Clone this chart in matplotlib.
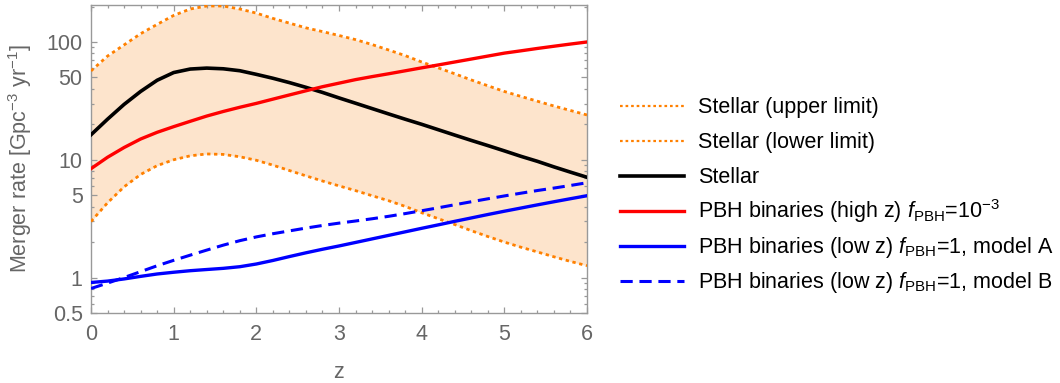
import numpy as np
import matplotlib
matplotlib.use("Agg")
from matplotlib import pyplot as plt
from matplotlib.lines import Line2D
from matplotlib.ticker import FixedLocator, NullFormatter

plt.rcParams['font.family'] = ['Liberation Sans', 'DejaVu Sans']
plt.rcParams['mathtext.fontset'] = 'custom'
plt.rcParams['mathtext.rm'] = 'Liberation Sans'
plt.rcParams['mathtext.it'] = 'Liberation Sans:italic'

# redshift grid and merger rates (Gpc^-3 yr^-1)
z = [0.0, 0.2, 0.4, 0.6, 0.8, 1.0, 1.2, 1.4, 1.6, 1.8, 2.0, 2.2, 2.4, 2.6, 2.8, 3.0,
     3.2, 3.4, 3.6, 3.8, 4.0, 4.2, 4.4, 4.6, 4.8, 5.0, 5.2, 5.4, 5.6, 5.8, 6.0]
stellar_upper = [56.8, 75.9, 94.4, 117.5, 141, 168, 190.5, 202, 202, 190.5, 175.8,
                 158.5, 144.5, 131.8, 122.5, 113.5, 104.7, 95.1, 85.5, 76.6, 67.6,
                 60.3, 53.7, 47.6, 42.5, 38.0, 34.5, 31.4, 28.6, 26.2, 24.0]
stellar_lower = [2.99, 4.31, 5.89, 7.5, 8.91, 10.0, 10.8, 11.2, 11.1, 10.6, 9.9,
                 9.0, 8.1, 7.3, 6.6, 6.0, 5.47, 4.95, 4.49, 4.02, 3.55,
                 3.16, 2.82, 2.5, 2.23, 2.0, 1.81, 1.65, 1.5, 1.37, 1.26]
stellar = [16.3, 22.1, 29.5, 38.0, 47.3, 55.0, 58.9, 60, 59.2, 57.0, 53.1,
           49.2, 45.2, 41.2, 37.3, 33.5, 30.2, 27.2, 24.5, 22.1, 20,
           18, 16.2, 14.6, 13.2, 11.9, 10.7, 9.7, 8.7, 7.85, 7.1]
pbh_high = [8.4, 10.5, 12.7, 15.0, 17.1, 19.1, 21.2, 23.5, 25.7, 27.9, 30.1,
            32.7, 35.5, 38.5, 41.7, 44.7, 47.9, 50.8, 53.7, 56.9, 60.3,
            63.8, 67.6, 71.6, 75.9, 80.4, 84.1, 88.1, 92, 96, 100]
pbh_low_A = [0.908, 0.933, 0.973, 1.023, 1.072, 1.109, 1.143, 1.17, 1.197, 1.236, 1.303,
             1.396, 1.507, 1.622, 1.738, 1.854, 1.986, 2.128, 2.28, 2.443, 2.618,
             2.8, 3.0, 3.206, 3.428, 3.656, 3.89, 4.14, 4.4, 4.67, 4.95]
pbh_low_B = [0.807, 0.897, 1.0, 1.122, 1.259, 1.4, 1.549, 1.71, 1.884, 2.056, 2.213,
             2.355, 2.489, 2.63, 2.767, 2.897, 3.02, 3.155, 3.31, 3.49, 3.69,
             3.91, 4.15, 4.4, 4.66, 4.93, 5.2, 5.48, 5.75, 6.05, 6.38]

labels = ["Stellar (upper limit)", "Stellar (lower limit)", "Stellar",
          r"PBH binaries (high z) $f_{\mathrm{PBH}}$=10$^{-3}$",
          r"PBH binaries (low z) $f_{\mathrm{PBH}}$=1, model A",
          r"PBH binaries (low z) $f_{\mathrm{PBH}}$=1, model B"]

yticks = [0.5, 1, 5, 10, 50, 100]
ytick_labels = ["0.5", "1", "5", "10", "50", "100"]

gray = '#999999'
textgray = '#666666'
orange = '#ff8000'
fs = 15.5

W, H = 1060, 383
fig = plt.figure(figsize=(W / 100, H / 100), dpi=100)
ax = fig.add_axes([91 / W, 1 - 313 / H, 496 / W, 308 / H])

ax.fill_between(z, stellar_lower, stellar_upper, color='#fde4cc', lw=0, zorder=1)
l1, = ax.plot(z, stellar_upper, color=orange, lw=2, ls=(0, (1.2, 1.3)), zorder=3)
l2, = ax.plot(z, stellar_lower, color=orange, lw=2, ls=(0, (1.2, 1.3)), zorder=3)
l3, = ax.plot(z, stellar, color='black', lw=2.6, zorder=4)
l4, = ax.plot(z, pbh_high, color='#ff0000', lw=2.4, zorder=4)
l5, = ax.plot(z, pbh_low_A, color='#0000ff', lw=2.4, zorder=4)
l6, = ax.plot(z, pbh_low_B, color='#0000ff', lw=2.2, ls=(0, (4, 2.2)), zorder=4)
for ln in (l1, l2, l3, l4, l5, l6):
    ln.set_solid_joinstyle('round')

ax.set_yscale('log')
ax.set_xlim(0, 6)
ax.set_ylim(0.5, 206)

ax.yaxis.set_major_locator(FixedLocator(yticks))
ax.set_yticklabels(ytick_labels)
minor = [v * m for v in [0.1, 1, 10, 100] for m in range(2, 10)]
minor = [v for v in minor if 0.5 < v < 206 and round(v, 6) not in yticks]
ax.yaxis.set_minor_locator(FixedLocator(minor))
ax.yaxis.set_minor_formatter(NullFormatter())
ax.set_xticks(range(7))
ax.set_xticks(np.arange(0, 6.01, 0.2), minor=True)

for s in ax.spines.values():
    s.set_color(gray)
    s.set_linewidth(1.0)
ax.tick_params(which='both', direction='in', top=True, right=True, color=gray,
               labelcolor=textgray, labelsize=fs, width=0.9)
ax.tick_params(axis='y', which='both', pad=6)
ax.tick_params(axis='x', which='both', pad=8)
ax.tick_params(which='major', length=4)
ax.tick_params(which='minor', length=2.2)

ax.set_xlabel("z", fontsize=fs, color=textgray, labelpad=12)
ax.set_ylabel(r"Merger rate [Gpc$^{-3}$ yr$^{-1}$]", fontsize=fs, color=textgray,
              labelpad=9)

# legend drawn by hand so every row gets the same spacing
row_y = [106 + 35 * i for i in range(6)]
for line, label, yp in zip([l1, l2, l3, l4, l5, l6], labels, row_y):
    fy = 1 - yp / H
    lw = line.get_linewidth()
    if line is l1 or line is l2:
        lw = 1.6
    fig.add_artist(Line2D([620 / W, 684 / W], [fy, fy], transform=fig.transFigure,
                          color=line.get_color(), lw=lw, ls=line.get_linestyle(),
                          dashes=line._unscaled_dash_pattern[1] or (None, None)))
    fig.text(698 / W, 1 - (yp + 7) / H, label, fontsize=fs, color='black',
             ha='left', va='baseline')

fig.savefig("out.png", dpi=100)
